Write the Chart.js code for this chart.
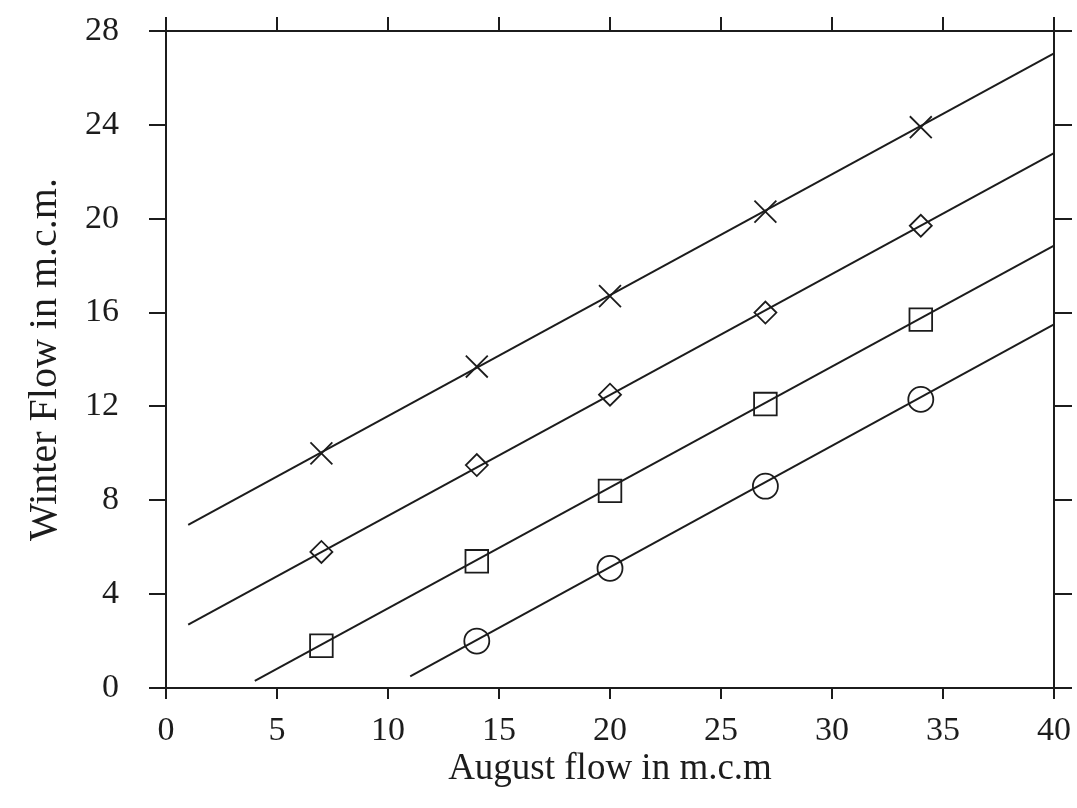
<!DOCTYPE html>
<html>
<head>
<meta charset="utf-8">
<script src="https://cdn.jsdelivr.net/npm/chart.js@4/dist/chart.umd.min.js"></script>
<style>
  html, body { margin: 0; padding: 0; background: #fff; }
  #wrap { width: 1077px; height: 808px; }
</style>
</head>
<body>
<div id="wrap"><canvas id="c" width="1077" height="808"></canvas></div>
<script>
/* Winter flow vs August flow — four regression lines with measured points */

const xTicks = [0, 5, 10, 15, 20, 25, 30, 35, 40];
const yTicks = [0, 4, 8, 12, 16, 20, 24, 28];

// measured points (August flow, winter flow)
const crossX   = [7, 14, 20, 27, 34];
const crossY   = [10.0, 13.7, 16.7, 20.3, 23.9];
const diamondX = [7, 14, 20, 27, 34];
const diamondY = [5.8, 9.5, 12.5, 16.0, 19.7];
const squareX  = [7, 14, 20, 27, 34];
const squareY  = [1.8, 5.4, 8.4, 12.1, 15.7];
const circleX  = [14, 20, 27, 34];
const circleY  = [2.0, 5.1, 8.6, 12.3];

// fitted lines: [start, end] endpoints
const crossLineX   = [1, 40];
const crossLineY   = [6.95, 27.05];
const diamondLineX = [1, 40];
const diamondLineY = [2.7, 22.8];
const squareLineX  = [4, 40];
const squareLineY  = [0.3, 18.85];
const circleLineX  = [11, 40];
const circleLineY  = [0.5, 15.5];

const INK = '#1c1c1c';
const SERIF = '"Liberation Serif", "DejaVu Serif", serif';

const pts = (xs, ys) => xs.map((x, i) => ({ x, y: ys[i] }));

const lineSet = (xs, ys) => ({
  data: pts(xs, ys),
  borderColor: INK,
  borderWidth: 2,
  pointRadius: 0,
  showLine: true,
  fill: false,
});

const markSet = (xs, ys, style, r) => ({
  data: pts(xs, ys),
  showLine: false,
  pointStyle: style,
  pointRadius: r,
  pointHoverRadius: r,
  pointBorderColor: INK,
  pointBackgroundColor: 'rgba(255,255,255,0)',
  pointBorderWidth: 1.8,
});

// pin axis boxes so the plot area lands where the scan has it
const noPad = s => { s.paddingLeft = s.paddingRight = s.paddingTop = s.paddingBottom = 0; };
const fixW = w => s => { s.width = w; noPad(s); };
const fixH = h => s => { s.height = h; noPad(s); };

new Chart(document.getElementById('c').getContext('2d'), {
  type: 'scatter',
  data: {
    datasets: [
      lineSet(crossLineX, crossLineY),
      lineSet(diamondLineX, diamondLineY),
      lineSet(squareLineX, squareLineY),
      lineSet(circleLineX, circleLineY),
      markSet(crossX, crossY, 'crossRot', 15.5),
      markSet(diamondX, diamondY, 'rectRot', 11),
      markSet(squareX, squareY, 'rect', 16),
      markSet(circleX, circleY, 'circle', 12.5),
    ]
  },
  options: {
    responsive: false,
    animation: false,
    layout: { padding: 0 },
    plugins: { legend: { display: false }, tooltip: { enabled: false } },
    scales: {
      x: {
        type: 'linear', position: 'bottom', min: 0, max: 40,
        afterBuildTicks: s => { s.ticks = xTicks.map(v => ({ value: v })); },
        afterFit: fixH(120),
        border: { display: true, color: INK, width: 2 },
        grid: { drawOnChartArea: false, drawTicks: true, tickLength: 11, color: INK, lineWidth: 2 },
        ticks: { color: INK, padding: 12, maxRotation: 0, font: { family: SERIF, size: 34 } },
        title: { display: true, text: 'August flow in m.c.m', color: INK,
                 font: { family: SERIF, size: 37 }, padding: { top: 0, bottom: 17 } },
      },
      x2: {
        type: 'linear', position: 'top', min: 0, max: 40,
        afterBuildTicks: s => { s.ticks = xTicks.map(v => ({ value: v })); },
        afterFit: fixH(31),
        border: { display: true, color: INK, width: 2 },
        grid: { drawOnChartArea: false, drawTicks: true, tickLength: 14, color: INK, lineWidth: 2 },
        ticks: { display: false },
      },
      y: {
        type: 'linear', position: 'left', min: 0, max: 28,
        afterBuildTicks: s => { s.ticks = yTicks.map(v => ({ value: v })); },
        afterFit: fixW(166),
        border: { display: true, color: INK, width: 2 },
        grid: { drawOnChartArea: false, drawTicks: true, tickLength: 17, color: INK, lineWidth: 2 },
        ticks: { color: INK, padding: 30, font: { family: SERIF, size: 34 } },
        title: { display: true, text: 'Winter Flow in m.c.m.', color: INK,
                 font: { family: SERIF, size: 40 }, padding: { top: 21, bottom: 0 } },
      },
      y2: {
        type: 'linear', position: 'right', min: 0, max: 28,
        afterBuildTicks: s => { s.ticks = yTicks.map(v => ({ value: v })); },
        afterFit: fixW(23),
        border: { display: true, color: INK, width: 2 },
        grid: { drawOnChartArea: false, drawTicks: true, tickLength: 18, color: INK, lineWidth: 2 },
        ticks: { display: false },
      },
    }
  }
});
</script>
</body>
</html>
